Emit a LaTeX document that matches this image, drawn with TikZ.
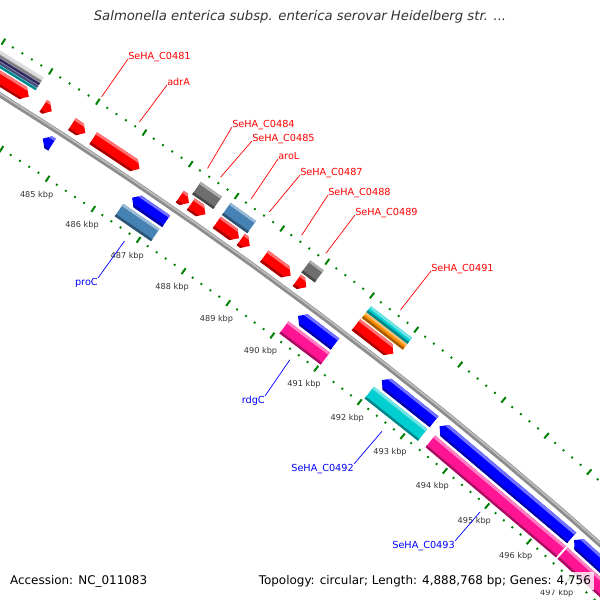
\documentclass[tikz,border=0pt]{standalone}
\usepackage{fontspec}
\setmainfont{DejaVu Sans}
\usetikzlibrary{calc}
\definecolor{cdsred}{RGB}{255,0,0}
\definecolor{cdsblue}{RGB}{0,0,255}
\definecolor{hitgrey}{RGB}{110,110,110}
\definecolor{hitsteel}{RGB}{70,130,180}
\definecolor{hitcyan}{RGB}{0,206,209}
\definecolor{hitorange}{RGB}{255,140,0}
\definecolor{hitpink}{RGB}{255,20,147}
\definecolor{hitpurple}{RGB}{72,61,139}
\definecolor{hitslate}{RGB}{110,120,180}
\definecolor{hitlight}{RGB}{195,195,200}
\definecolor{tickgreen}{RGB}{0,128,0}
\definecolor{textgrey}{RGB}{51,51,51}
\definecolor{bbdark}{RGB}{140,140,140}
\definecolor{bblight}{RGB}{190,190,190}
% angle of a position on the ring (kbp)
\pgfmathdeclarefunction{gang}{1}{\pgfmathparse{0.706*(#1-485)-56.87}}
\tikzset{
map/.style={x=0.025cm,y=-0.025cm},
backbone/.style={line width=3.6pt,draw=bbdark},
backlight/.style={line width=1.2pt,draw=bblight},
major/.style={line width=1.4pt,draw=tickgreen},
minor/.style={line width=1.3pt,draw=tickgreen},
kbp/.style={font=\fontsize{5.8}{6}\selectfont,text=textgrey,inner sep=0pt},
lblf/.style={font=\fontsize{6.9}{8}\selectfont,text=cdsred,inner sep=0pt,anchor=base west},
lblr/.style={font=\fontsize{6.9}{8}\selectfont,text=cdsblue,inner sep=0pt,anchor=north east},
leadf/.style={draw=cdsred,line width=0.5pt},
leadr/.style={draw=cdsblue,line width=0.5pt},
footer/.style={font=\fontsize{8.5}{10}\selectfont,fill=white,fill opacity=0.8,text opacity=1,inner sep=2pt},
}
\newcommand{\boxshape}[4]{({gang(#1)}:{#3}) -- ({gang(#2)}:{#3}) -- ({gang(#2)}:{#4}) -- ({gang(#1)}:{#4}) -- cycle}
\newcommand{\fwdshape}[4]{({gang(#1)}:{#3}) -- ({gang(max(#1,#2-0.12))}:{#3}) -- ({gang(#2)}:{(#3+#4)/2}) -- ({gang(max(#1,#2-0.12))}:{#4}) -- ({gang(#1)}:{#4}) -- cycle}
\newcommand{\revshape}[4]{({gang(#2)}:{#3}) -- ({gang(min(#2,#1+0.12))}:{#3}) -- ({gang(#1)}:{(#3+#4)/2}) -- ({gang(min(#2,#1+0.12))}:{#4}) -- ({gang(#2)}:{#4}) -- cycle}
% shape, from, to, inner r, outer r, colour
\newcommand{\gene}[6]{%
  \fill[#6] #1{#2}{#3}{#4}{#5};
  \begin{scope}
    \clip #1{#2}{#3}{#4}{#5};
    \fill[#6!55!white] \boxshape{#2-0.3}{#3+0.3}{#5-2.5}{#5+1};
    \fill[#6!65!black] \boxshape{#2-0.3}{#3+0.3}{#4-1}{#4+2.5};
  \end{scope}}

\begin{document}
\begin{tikzpicture}[map]
\useasboundingbox (0,0) rectangle (600,600);
\clip (0,0) rectangle (600,600);
\begin{scope}[shift={(-2385,3906)}]
  \draw[backbone] plot[domain=481:499,samples=60] ({gang(\x)}:4496);
  \draw[backlight] plot[domain=481:499,samples=60] ({gang(\x)}:4497);

  % forward strand
  \gene\fwdshape{482}{483.91}{4503}{4517}{cdsred}
  \gene\fwdshape{484.22}{484.40}{4503}{4517}{cdsred}
  \gene\fwdshape{484.83}{485.12}{4503}{4517}{cdsred}
  \gene\fwdshape{485.29}{486.29}{4503}{4517}{cdsred}
  \gene\fwdshape{487.17}{487.37}{4503}{4517}{cdsred}
  \gene\fwdshape{487.41}{487.73}{4503}{4517}{cdsred}
  \gene\fwdshape{487.98}{488.47}{4503}{4517}{cdsred}
  \gene\fwdshape{488.51}{488.71}{4503}{4517}{cdsred}
  \gene\fwdshape{489.03}{489.62}{4503}{4517}{cdsred}
  \gene\fwdshape{489.76}{489.97}{4503}{4517}{cdsred}
  \gene\fwdshape{491.09}{491.94}{4503}{4517}{cdsred}
  \gene\boxshape{482}{483.95}{4519}{4522}{hitcyan}
  \gene\boxshape{482}{483.95}{4522}{4525}{hitslate}
  \gene\boxshape{482}{483.95}{4525}{4528}{hitpurple}
  \gene\boxshape{482}{483.95}{4528}{4534}{hitlight}
  \gene\boxshape{487.33}{487.79}{4519}{4534}{hitgrey}
  \gene\boxshape{487.98}{488.54}{4519}{4534}{hitsteel}
  \gene\boxshape{489.74}{490.04}{4519}{4534}{hitgrey}
  \gene\boxshape{491.10}{492.03}{4519}{4526.5}{hitorange}
  \gene\boxshape{491.10}{492.03}{4526.5}{4534}{hitcyan}

  % reverse strand
  \gene\revshape{484.53}{484.73}{4475}{4489}{cdsblue}
  \gene\revshape{486.47}{487.22}{4475}{4489}{cdsblue}
  \gene\revshape{490.16}{491.00}{4475}{4489}{cdsblue}
  \gene\revshape{492.07}{493.28}{4475}{4489}{cdsblue}
  \gene\revshape{493.41}{496.54}{4475}{4489}{cdsblue}
  \gene\revshape{496.60}{499}{4475}{4489}{cdsblue}
  \gene\boxshape{486.40}{487.20}{4457}{4472}{hitsteel}
  \gene\boxshape{490.08}{491.02}{4457}{4472}{hitpink}
  \gene\boxshape{492.03}{493.27}{4457}{4472}{hitcyan}
  \gene\boxshape{493.45}{496.56}{4457}{4472}{hitpink}
  \gene\boxshape{496.60}{499}{4457}{4472}{hitpink}

  % ticks every 200 bp
  \foreach \i in {0,...,85}{
    \pgfmathsetmacro{\k}{482+0.2*\i}
    \pgfmathtruncatemacro{\m}{mod(\i,5)}
    \ifnum\m=0
      \draw[major] ({gang(\k)}:4539.5) -- ({gang(\k)}:4546.5);
      \draw[major] ({gang(\k)}:4447.5) -- ({gang(\k)}:4454.5);
    \else
      \draw[minor] ({gang(\k)}:4542) -- ({gang(\k)}:4544);
      \draw[minor] ({gang(\k)}:4450) -- ({gang(\k)}:4452);
    \fi}
  \foreach \k in {485,...,497}
    \node[kbp] (k\k) at ({gang(\k)}:4431) {\k\ kbp};

  \coordinate (p481) at ({gang(485.01)}:4549);
  \coordinate (padrA) at ({gang(485.82)}:4549);
  \coordinate (p484) at ({gang(487.29)}:4549);
  \coordinate (p485) at ({gang(487.57)}:4549);
  \coordinate (paroL) at ({gang(488.24)}:4549);
  \coordinate (p487) at ({gang(488.64)}:4549);
  \coordinate (p488) at ({gang(489.35)}:4549);
  \coordinate (p489) at ({gang(489.89)}:4549);
  \coordinate (p491) at ({gang(491.56)}:4549);
  \coordinate (pproC) at ({gang(486.80)}:4442);
  \coordinate (prdgC) at ({gang(490.52)}:4442);
  \coordinate (p492) at ({gang(492.65)}:4442);
  \coordinate (p493) at ({gang(494.97)}:4442);
\end{scope}

\node[lblf] (l481) at (128,59) {SeHA\_C0481};
\node[lblf] (ladrA) at (167,85) {adrA};
\node[lblf] (l484) at (232,127) {SeHA\_C0484};
\node[lblf] (l485) at (252,141) {SeHA\_C0485};
\node[lblf] (laroL) at (278,159) {aroL};
\node[lblf] (l487) at (300,175) {SeHA\_C0487};
\node[lblf] (l488) at (328,195) {SeHA\_C0488};
\node[lblf] (l489) at (355,215) {SeHA\_C0489};
\node[lblf] (l491) at (431,271) {SeHA\_C0491};
\node[lblr] (lproC) at (98,278) {proC};
\node[lblr] (lrdgC) at (265,396) {rdgC};
\node[lblr] (l492) at (354,464) {SeHA\_C0492};
\node[lblr] (l493) at (455,541) {SeHA\_C0493};
\foreach \n in {481,adrA,484,485,aroL,487,488,489,491}
  \draw[leadf] (l\n.base west) -- (p\n);
\foreach \n in {proC,rdgC,492,493}
  \draw[leadr] (l\n.north east) -- (p\n);

\node[font=\fontsize{9.4}{11}\selectfont\itshape,text=textgrey] (title) at (300,17)
  {Salmonella enterica subsp. enterica serovar Heidelberg str. ...};
\node[footer,anchor=west] (acc) at (7,581) {Accession: NC\_011083};
\node[footer,anchor=east] (topo) at (594,581) {Topology: circular; Length: 4,888,768 bp; Genes: 4,756};
\end{tikzpicture}
\end{document}
